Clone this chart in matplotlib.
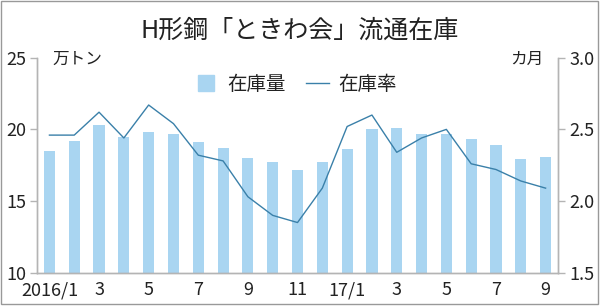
import matplotlib
matplotlib.use('Agg')
import matplotlib.pyplot as plt
from matplotlib.lines import Line2D
from matplotlib.patches import Rectangle

plt.rcParams['font.family'] = ['Liberation Sans Narrow', 'Noto Sans CJK JP', 'DejaVu Sans']

# 2016/1 - 2017/9
months = list(range(21))
xlabels = ['2016/1', '', '3', '', '5', '', '7', '', '9', '', '11', '',
           '17/1', '', '3', '', '5', '', '7', '', '9']
stock = [18.5, 19.2, 20.3, 19.5, 19.8, 19.7, 19.1, 18.7, 18.0, 17.7, 17.2,
         17.7, 18.6, 20.0, 20.1, 19.7, 19.7, 19.3, 18.9, 17.9, 18.1]   # 万トン
ratio = [2.46, 2.46, 2.62, 2.44, 2.67, 2.54, 2.32, 2.28, 2.03, 1.90, 1.85,
         2.09, 2.52, 2.60, 2.34, 2.44, 2.50, 2.26, 2.22, 2.14, 2.09]   # カ月

bar_c = '#a9d5f1'
line_c = '#3a80a9'
grey = '#b4b4b4'
txt = '#222222'
cjk = ['Noto Sans CJK JP', 'DejaVu Sans']

fig = plt.figure(figsize=(6, 3.06), dpi=100)
ax = fig.add_axes([0.0617, 0.1088, 0.8683, 0.7026])
ax.bar(months, stock, width=0.45, color=bar_c, zorder=2)
ax.set_xlim(-0.5, 20.5)
ax.set_ylim(10, 25)
ax.set_yticks([10, 15, 20, 25])
ax.set_xticks(months)
ax.set_xticklabels(xlabels)

ax2 = ax.twinx()
ax2.plot(months, ratio, color=line_c, lw=1.0, zorder=3)
ax2.set_ylim(1.5, 3.0)
ax2.set_yticks([1.5, 2.0, 2.5, 3.0])
ax2.set_yticklabels(['1.5', '2.0', '2.5', '3.0'])

for a in (ax, ax2):
    for s in a.spines.values():
        s.set_color(grey)
        s.set_linewidth(1.0)
    a.spines['top'].set_visible(False)
    a.tick_params(colors=grey, labelcolor=txt, labelsize=13, length=5, width=1)
ax.tick_params(axis='x', length=0, pad=6)
ax.tick_params(axis='y', pad=3)
ax2.tick_params(axis='y', pad=3)

fig.text(0.5, 0.9, 'H形鋼「ときわ会」流通在庫', ha='center', va='center',
         fontsize=18, color=txt, family=cjk)
fig.text(0.088, 0.805, '万トン', ha='left', va='center', fontsize=12,
         color=txt, family=cjk)
fig.text(0.905, 0.805, 'カ月', ha='right', va='center', fontsize=12,
         color=txt, family=cjk)

handles = [Line2D([], [], ls='none', marker='s', markersize=12, color=bar_c),
           Line2D([], [], color=line_c, lw=1.0)]
leg = fig.legend(handles, ['在庫量', '在庫率'], loc='center', ncol=2,
                 bbox_to_anchor=(0.493, 0.725), frameon=False,
                 handlelength=1.2, handletextpad=0.5, columnspacing=1.0,
                 prop={'family': cjk, 'size': 14})
for t in leg.get_texts():
    t.set_color(txt)

fig.patches.append(Rectangle((0.002, 0.006), 0.995, 0.99, transform=fig.transFigure,
                             fill=False, edgecolor='#999999', lw=1.0))

fig.savefig('out.png', dpi=100)
